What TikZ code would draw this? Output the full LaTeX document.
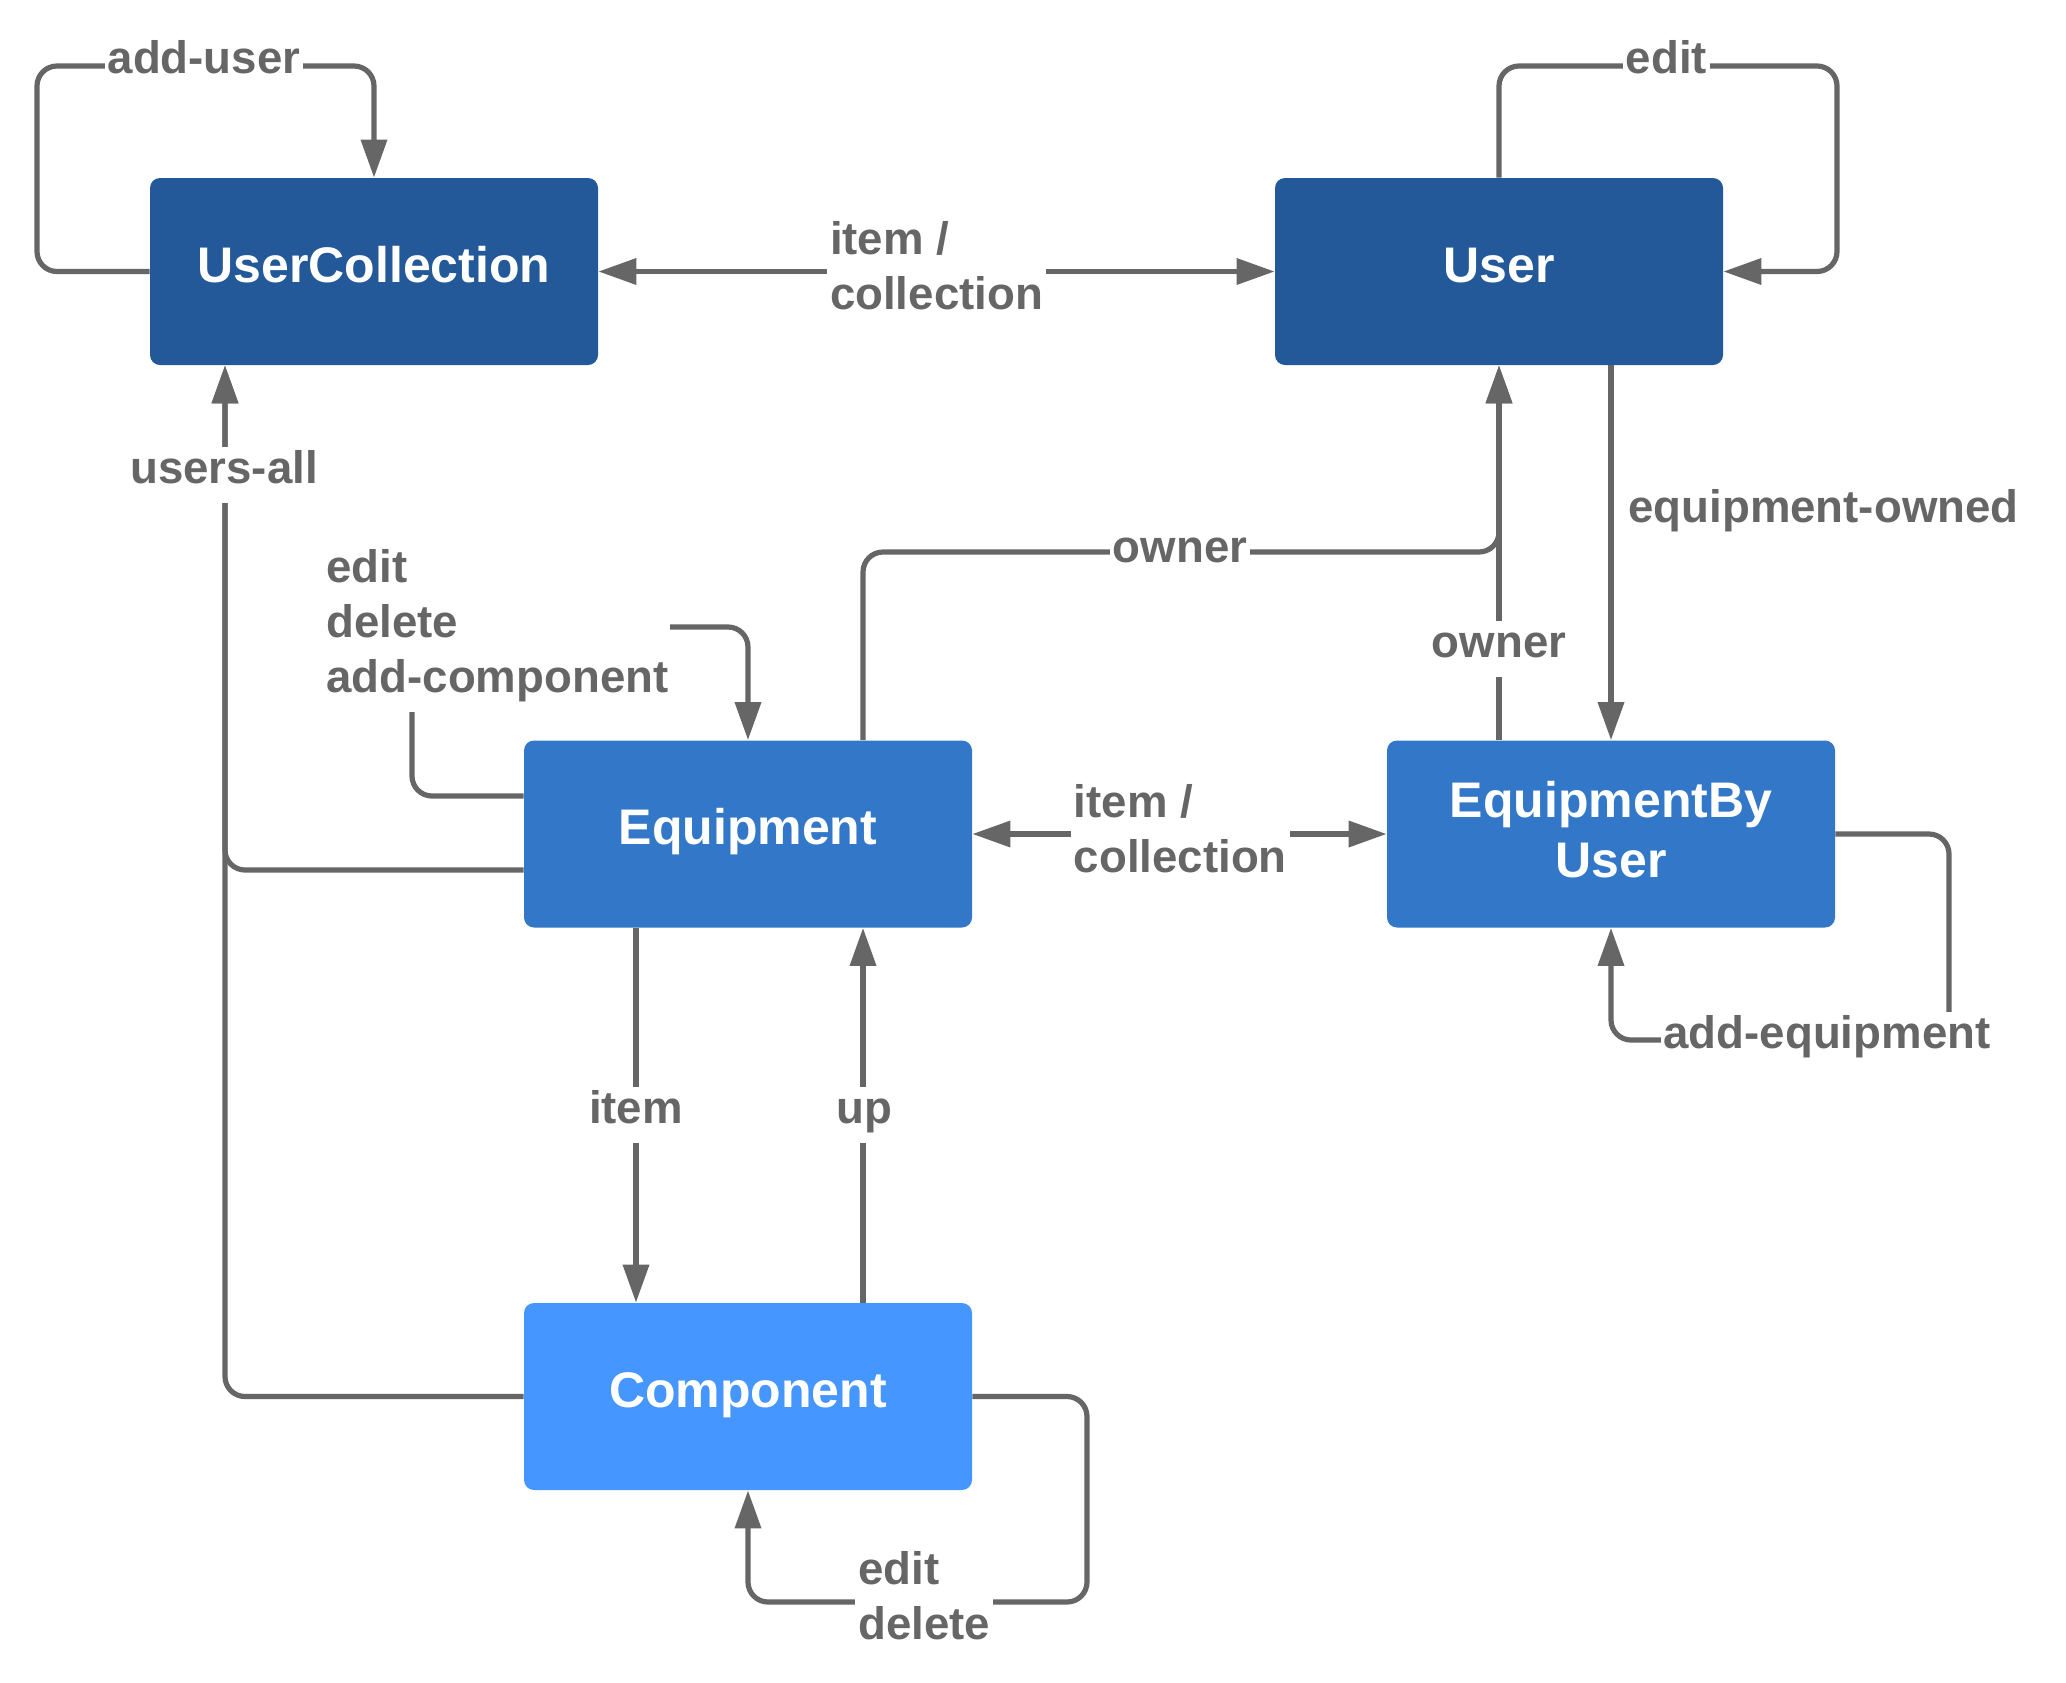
\documentclass[tikz,border=0pt]{standalone}
\usepackage{fontspec}
\setmainfont{Liberation Sans}
\usetikzlibrary{arrows.meta,calc}
\definecolor{dblue}{RGB}{36,89,153}
\definecolor{mblue}{RGB}{51,120,200}
\definecolor{lblue}{RGB}{69,150,255}
\definecolor{lgray}{RGB}{102,102,102}
\pgfdeclarelayer{back}
\pgfdeclarelayer{wires}
\pgfsetlayers{back,wires,main}
\begin{document}
\begin{tikzpicture}[x=0.5pt,y=-0.5pt,
  box/.style={rectangle,rounded corners=5pt,minimum width=224pt,minimum height=93.5pt,
    text=white,font=\bfseries\fontsize{25}{30}\selectfont,align=center,inner sep=0pt},
  sbox/.style={box,text height=18pt,text depth=7.5pt},
  lbl/.style={fill=white,text=lgray,font=\bfseries\fontsize{22.8}{27.5}\selectfont,
    inner xsep=1.5pt,inner ysep=1.5pt,align=left},
  slbl/.style={lbl,text height=17pt,text depth=9pt,inner ysep=1pt},
  conn/.style={draw=lgray,line width=2.6pt,rounded corners=10pt},
  arr/.style={conn,-{Triangle[length=19pt,width=12.75pt]}},
  darr/.style={conn,{Triangle[length=19pt,width=12.75pt]}-{Triangle[length=19pt,width=12.75pt]}}]
\useasboundingbox (0,0) rectangle (2066,1682);
\begin{pgfonlayer}{back}
\fill[white] (0,0) rectangle (2066,1682);
\end{pgfonlayer}

% boxes
\node[sbox,fill=dblue] (UC) at (374,271.5) {UserCollection};
\node[sbox,fill=dblue] (U) at (1499,271.5) {User};
\node[sbox,fill=mblue] (E) at (748,834) {Equipment};
\node[box,fill=mblue] (EBU) at (1611,834) {EquipmentBy\\User\rule[-5pt]{0pt}{5pt}};
\node[sbox,fill=lblue] (C) at (748,1396.5) {Component};

% labels
\node[slbl,anchor=base] (Ladduser) at (204,73) {add-user};
\node[slbl,anchor=base] (Ledit) at (1666.5,73) {edit};
\node[lbl,anchor=north] (Lic1) at (936.5,218.5) {item /\\collection};
\node[slbl,anchor=base] (Lusers) at (224,483) {users-all};
\node[lbl,anchor=north west,inner xsep=1pt,inner ysep=5pt] (Leq) at (324,538.6) {edit\\delete\\add-component};
\node[slbl,anchor=base] (Lowner1) at (1180,562) {owner};
\node[slbl,anchor=base] (Lowner2) at (1499,657) {owner};
\node[slbl,anchor=base west] (Leo) at (1625,522) {equipment-owned};
\node[lbl,anchor=north] (Lic2) at (1180.3,781) {item /\\collection};
\node[slbl,anchor=base] (Ladde) at (1827,1048) {add-equipment};
\node[slbl,anchor=base] (Litem) at (636,1123) {item};
\node[slbl,anchor=base] (Lup) at (864,1123) {up};
\node[lbl,anchor=north west] (Led) at (855,1547.6) {edit\\delete};

% connectors
\begin{pgfonlayer}{wires}
\draw[arr] (UC.west) -| (37,66) -| (UC.north);
\draw[darr] (UC.east) -- (U.west);
\draw[arr] (U.north) |- (1837,66) |- (U.east);
\draw[arr] ($(E.west)+(0,36)$) -| ($(UC.south)+(-149,0)$);
\draw[arr] (C.west) -| ($(UC.south)+(-149,0)$);
\draw[arr] ($(E.west)+(0,-38)$) -| (412,627) -| (E.north);
\draw[arr] ($(E.north)+(115,0)$) |- (1499,552) -- (U.south);
\draw[arr] (EBU.north -| U.south) -- (U.south);
\draw[arr] (U.south -| EBU.north) -- (EBU.north);
\draw[darr] (E.east) -- (EBU.west);
\draw[arr] (EBU.east) -| (1949,1040) -| (EBU.south);
\draw[arr] ($(E.south)+(-112,0)$) -- ($(C.north)+(-112,0)$);
\draw[arr] ($(C.north)+(115,0)$) -- ($(E.south)+(115,0)$);
\draw[arr] (C.east) -| (1087,1602) -| (C.south);
\end{pgfonlayer}
\end{tikzpicture}
\end{document}
